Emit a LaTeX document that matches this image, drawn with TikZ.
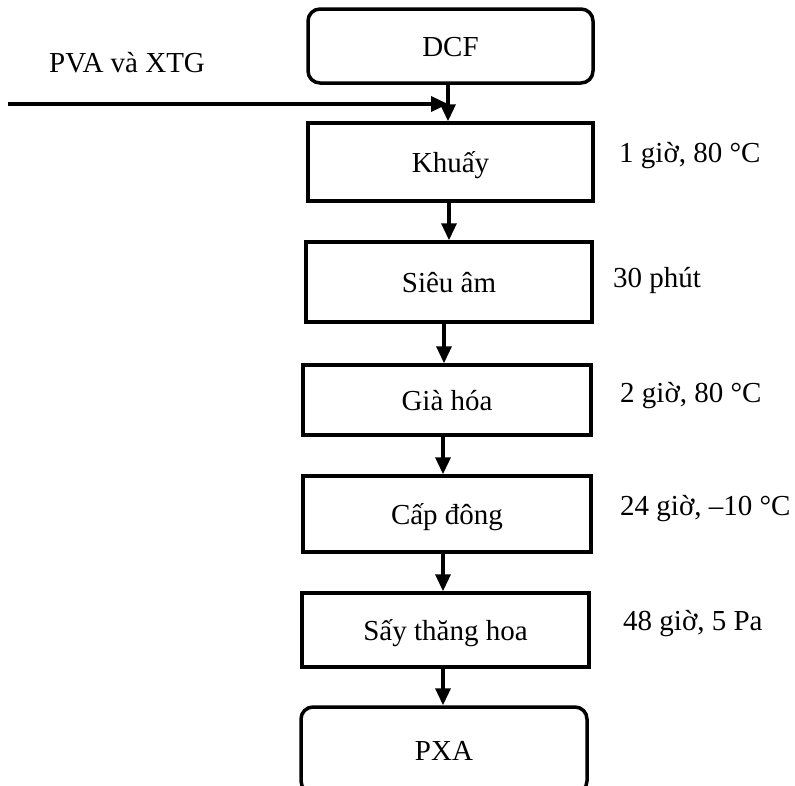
\documentclass[tikz,border=0pt]{standalone}
\usepackage{fontspec}
\setmainfont{Liberation Serif}
\usetikzlibrary{arrows.meta}
\tikzset{
  box/.style={draw, line width=3.5pt, fill=none, font=\fontsize{29}{33}\selectfont, inner sep=0pt, text height=27pt, text depth=6pt},
  rbox/.style={box, rounded corners=12pt},
  lbl/.style={font=\fontsize{29}{33}\selectfont, inner sep=0pt, anchor=base west},
  flow/.style={line width=3.5pt, -{Triangle[length=17pt,width=15pt]}}
}
\begin{document}
\begin{tikzpicture}[x=1pt,y=-1pt]
\clip (0,0) rectangle (795,785);
\fill[white] (0,0) rectangle (795,785);
\node[rbox, minimum width=285pt, minimum height=74pt] (dcf) at (450.5,46) {DCF};
\node[box, minimum width=285pt, minimum height=78pt] (khuay) at (450.5,162) {Khuấy};
\node[box, minimum width=286pt, minimum height=80pt] (sieuam) at (449,282) {Siêu âm};
\node[box, minimum width=288pt, minimum height=70pt] (giahoa) at (447,400) {Già hóa};
\node[box, minimum width=288pt, minimum height=76pt] (capdong) at (447,514) {Cấp đông};
\node[box, minimum width=287pt, minimum height=74pt] (say) at (445.5,630) {Sấy thăng hoa};
\node[rbox, minimum width=286pt, minimum height=86pt] (pxa) at (444,750) {PXA};

\node[lbl] (pva) at (49,72) {PVA và XTG};
\node[lbl] (l1) at (619,162) {1 giờ, 80 °C};
\node[lbl] (l2) at (613,287) {30 phút};
\node[lbl] (l3) at (620,402) {2 giờ, 80 °C};
\node[lbl] (l4) at (620,515) {24 giờ, –10 °C};
\node[lbl] (l5) at (623,630) {48 giờ, 5 Pa};

\coordinate (c1) at (448,83);
\coordinate (in) at (8,104);
\draw[flow] (c1) -- (c1 |- khuay.north);
\draw[flow] (in) -- (in -| c1);
\coordinate (c2) at (449,201);
\draw[flow] (c2) -- (c2 |- sieuam.north);
\coordinate (c3) at (444,322);
\draw[flow] (c3) -- (c3 |- giahoa.north);
\coordinate (c4) at (443,435);
\draw[flow] (c4) -- (c4 |- capdong.north);
\coordinate (c5) at (443,552);
\draw[flow] (c5) -- (c5 |- say.north);
\coordinate (c6) at (443,667);
\draw[flow] (c6) -- (c6 |- pxa.north);
\end{tikzpicture}
\end{document}
